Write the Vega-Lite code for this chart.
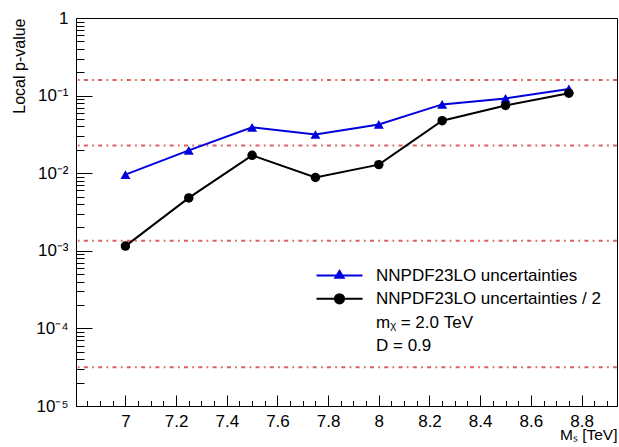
{
  "$schema": "https://vega.github.io/schema/vega-lite/v6.json",
  "width": 541,
  "height": 388,
  "autosize": "none",
  "padding": {"left": 76, "top": 18, "right": 2, "bottom": 41},
  "background": "white",
  "config": {
    "view": {"stroke": "black", "strokeWidth": 1},
    "font": "Liberation Sans",
    "axis": {
      "grid": false,
      "domainColor": "black",
      "tickColor": "black",
      "labelColor": "black",
      "titleColor": "black",
      "labelFont": "Liberation Sans",
      "titleFont": "Liberation Sans",
      "labelFontSize": 17,
      "titleFontWeight": "normal",
      "labelOverlap": false,
      "labelBound": false,
      "labelFlush": false
    }
  },
  "resolve": {
    "scale": {"x": "independent", "y": "independent"},
    "axis": {"x": "independent", "y": "independent"}
  },
  "datasets": {
    "pts": [
      {"ms": 7.0, "p": 0.0096, "series": "NNPDF23LO uncertainties"},
      {"ms": 7.25, "p": 0.0197, "series": "NNPDF23LO uncertainties"},
      {"ms": 7.5, "p": 0.039, "series": "NNPDF23LO uncertainties"},
      {"ms": 7.75, "p": 0.0315, "series": "NNPDF23LO uncertainties"},
      {"ms": 8.0, "p": 0.0425, "series": "NNPDF23LO uncertainties"},
      {"ms": 8.25, "p": 0.077, "series": "NNPDF23LO uncertainties"},
      {"ms": 8.5, "p": 0.092, "series": "NNPDF23LO uncertainties"},
      {"ms": 8.75, "p": 0.122, "series": "NNPDF23LO uncertainties"},
      {"ms": 7.0, "p": 0.00115, "series": "NNPDF23LO uncertainties / 2"},
      {"ms": 7.25, "p": 0.0048, "series": "NNPDF23LO uncertainties / 2"},
      {"ms": 7.5, "p": 0.017, "series": "NNPDF23LO uncertainties / 2"},
      {"ms": 7.75, "p": 0.0088, "series": "NNPDF23LO uncertainties / 2"},
      {"ms": 8.0, "p": 0.0129, "series": "NNPDF23LO uncertainties / 2"},
      {"ms": 8.25, "p": 0.0475, "series": "NNPDF23LO uncertainties / 2"},
      {"ms": 8.5, "p": 0.0745, "series": "NNPDF23LO uncertainties / 2"},
      {"ms": 8.75, "p": 0.1075, "series": "NNPDF23LO uncertainties / 2"}
    ],
    "sig": [
      {"p": 0.1587},
      {"p": 0.02275},
      {"p": 0.00135},
      {"p": 0.00003167}
    ]
  },
  "layer": [
    {
      "data": {"name": "sig"},
      "mark": {"type": "rule", "color": "#d94f4f", "strokeWidth": 2, "strokeDash": [4, 4.3, 1.7, 4.3], "opacity": 0.9},
      "encoding": {
        "y": {"field": "p", "type": "quantitative", "scale": {"type": "log", "domain": [0.00001, 1], "nice": false}, "axis": null}
      }
    },
    {
      "data": {"name": "pts"},
      "mark": {"type": "line", "strokeWidth": 2},
      "encoding": {
        "x": {
          "field": "ms", "type": "quantitative",
          "scale": {"domain": [6.805, 8.94], "nice": false, "zero": false},
          "axis": {
            "orient": "bottom",
            "values": [7, 7.2, 7.4, 7.6, 7.8, 8, 8.2, 8.4, 8.6, 8.8],
            "tickSize": -11,
            "format": ".1~f",
            "labelPadding": 18,
            "title": "Mₛ [TeV]",
            "titleAnchor": "end",
            "titleFontSize": 15.5,
            "titlePadding": -2
          }
        },
        "y": {
          "field": "p", "type": "quantitative",
          "scale": {"type": "log", "domain": [0.00001, 1], "nice": false},
          "axis": {
            "orient": "left",
            "values": [0.00001, 0.0001, 0.001, 0.01, 0.1, 1],
            "tickSize": -16,
            "labelExpr": "datum.value > 0.95 ? '1' : '10' + ['', '⁻¹', '⁻²', '⁻³', '⁻⁴', '⁻⁵'][-round(log(datum.value)/LN10)]",
            "labelPadding": 24,
            "title": "Local p-value",
            "titleAnchor": "end",
            "titleFontSize": 16,
            "titlePadding": 8
          }
        },
        "color": {
          "field": "series", "type": "nominal",
          "scale": {"domain": ["NNPDF23LO uncertainties", "NNPDF23LO uncertainties / 2"], "range": ["#0000dd", "black"]},
          "legend": null
        }
      }
    },
    {
      "data": {"name": "pts"},
      "transform": [{"filter": "datum.series == 'NNPDF23LO uncertainties'"}],
      "mark": {"type": "point", "shape": "triangle-up", "filled": true, "size": 100, "opacity": 1},
      "encoding": {
        "x": {
          "field": "ms", "type": "quantitative",
          "scale": {"domain": [6.805, 8.94], "nice": false, "zero": false},
          "axis": {
            "orient": "bottom",
            "values": [6.85,6.9,6.95,7,7.05,7.1,7.15,7.2,7.25,7.3,7.35,7.4,7.45,7.5,7.55,7.6,7.65,7.7,7.75,7.8,7.85,7.9,7.95,8,8.05,8.1,8.15,8.2,8.25,8.3,8.35,8.4,8.45,8.5,8.55,8.6,8.65,8.7,8.75,8.8,8.85,8.9],
            "tickSize": -5.5,
            "labels": false,
            "domain": false,
            "title": null
          }
        },
        "y": {
          "field": "p", "type": "quantitative",
          "scale": {"type": "log", "domain": [0.00001, 1], "nice": false},
          "axis": {
            "orient": "left",
            "values": [0.00002,0.00003,0.00004,0.00005,0.00006,0.00007,0.00008,0.00009,0.0002,0.0003,0.0004,0.0005,0.0006,0.0007,0.0008,0.0009,0.002,0.003,0.004,0.005,0.006,0.007,0.008,0.009,0.02,0.03,0.04,0.05,0.06,0.07,0.08,0.09,0.2,0.3,0.4,0.5,0.6,0.7,0.8,0.9],
            "tickSize": -8,
            "labels": false,
            "domain": false,
            "title": null
          }
        },
        "color": {"field": "series", "type": "nominal", "scale": {"domain": ["NNPDF23LO uncertainties", "NNPDF23LO uncertainties / 2"], "range": ["#0000dd", "black"]}, "legend": null}
      }
    },
    {
      "data": {"name": "pts"},
      "transform": [{"filter": "datum.series == 'NNPDF23LO uncertainties / 2'"}],
      "mark": {"type": "point", "shape": "circle", "filled": true, "size": 90, "opacity": 1},
      "encoding": {
        "x": {"field": "ms", "type": "quantitative", "scale": {"domain": [6.805, 8.94], "nice": false, "zero": false}, "axis": null},
        "y": {"field": "p", "type": "quantitative", "scale": {"type": "log", "domain": [0.00001, 1], "nice": false}, "axis": null},
        "color": {"field": "series", "type": "nominal", "scale": {"domain": ["NNPDF23LO uncertainties", "NNPDF23LO uncertainties / 2"], "range": ["#0000dd", "black"]}, "legend": null}
      }
    },
    {
      "data": {"name": "pts"},
      "mark": {"type": "point", "opacity": 0},
      "encoding": {
        "x": {"field": "ms", "type": "quantitative", "scale": {"domain": [6.805, 8.94], "nice": false, "zero": false}, "axis": null},
        "y": {"field": "p", "type": "quantitative", "scale": {"type": "log", "domain": [0.00001, 1], "nice": false}, "axis": null},
        "fill": {
          "field": "series", "type": "nominal",
          "scale": {"domain": ["NNPDF23LO uncertainties", "NNPDF23LO uncertainties / 2", "mᵪ = 2.0 TeV", "D = 0.9"], "range": ["#0000dd", "black", "transparent", "transparent"]},
          "legend": {"orient": "none", "legendX": 255, "legendY": 249, "title": null, "padding": 0, "symbolSize": 100, "symbolStrokeWidth": 2, "symbolOpacity": 1, "labelFontSize": 17, "labelFont": "Liberation Sans", "labelColor": "black", "labelLimit": 400, "rowPadding": 5.3, "labelOffset": 28}
        },
        "stroke": {
          "field": "series", "type": "nominal",
          "scale": {"domain": ["NNPDF23LO uncertainties", "NNPDF23LO uncertainties / 2", "mᵪ = 2.0 TeV", "D = 0.9"], "range": ["#0000dd", "black", "transparent", "transparent"]},
          "legend": {"orient": "none", "legendX": 255, "legendY": 249, "title": null, "padding": 0, "symbolSize": 100, "symbolStrokeWidth": 2, "symbolOpacity": 1, "labelFontSize": 17, "labelFont": "Liberation Sans", "labelColor": "black", "labelLimit": 400, "rowPadding": 5.3, "labelOffset": 28}
        },
        "shape": {
          "field": "series", "type": "nominal",
          "scale": {"domain": ["NNPDF23LO uncertainties", "NNPDF23LO uncertainties / 2", "mᵪ = 2.0 TeV", "D = 0.9"], "range": ["M -4.6 0 L 4.6 0 M -0.83 0.46 L 0 -0.92 L 0.83 0.46 Z", "M -4.6 0 L 4.6 0 M 0.92 0 A 0.92 0.92 0 1 1 -0.92 0 A 0.92 0.92 0 1 1 0.92 0 Z", "M 0 0 L 0 0", "M 0 0 L 0 0"]},
          "legend": {"orient": "none", "legendX": 255, "legendY": 249, "title": null, "padding": 0, "symbolSize": 100, "symbolStrokeWidth": 2, "symbolOpacity": 1, "labelFontSize": 17, "labelFont": "Liberation Sans", "labelColor": "black", "labelLimit": 400, "rowPadding": 5.3, "labelOffset": 28}
        }
      }
    }
  ]
}
